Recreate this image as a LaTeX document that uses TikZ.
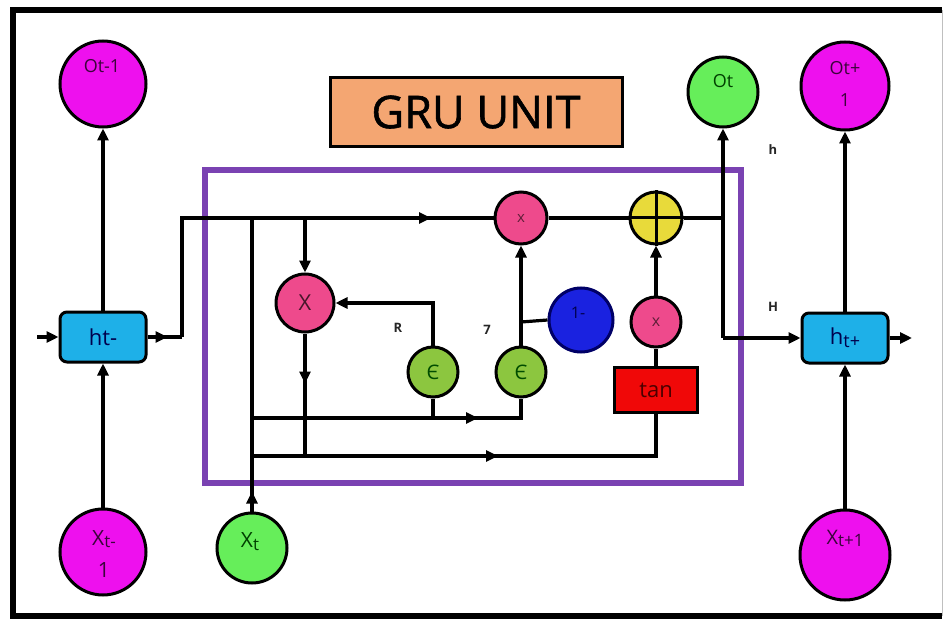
\documentclass[tikz,border=0pt]{standalone}
\usepackage{fontspec}
\setmainfont{Open Sans}
\newfontfamily\titlefont[FakeBold=1.3]{Open Sans}
\usetikzlibrary{arrows.meta,decorations.markings}
\definecolor{magc}{HTML}{EE10EE}
\definecolor{grnc}{HTML}{66EE5A}
\definecolor{sigc}{HTML}{8CC63F}
\definecolor{pinkc}{HTML}{EE4A8C}
\definecolor{yelc}{HTML}{E8DA3A}
\definecolor{bluec}{HTML}{1A22E0}
\definecolor{cyanc}{HTML}{1EB0E8}
\definecolor{redc}{HTML}{F00808}
\definecolor{orac}{HTML}{F4A672}
\definecolor{purc}{HTML}{7A42B2}
\tikzset{
  tip/.tip={Triangle[length=12pt,width=11pt]},
  conn/.style={line width=3.2pt,draw=black},
  arr/.style={conn,-tip},
  midarr/.style={postaction={decorate},decoration={markings,mark=at position #1 with {\arrow{tip}}}},
  circ/.style={circle,draw=black,line width=3pt,inner sep=0pt},
  hbox/.style={draw=black,line width=3pt,fill=cyanc,rounded corners=7pt,minimum width=86pt,minimum height=50pt,font=\fontsize{22}{24}\selectfont,text=black!70!blue},
  ctext/.style={font=\fontsize{18}{20}\selectfont,align=center},
  lbl/.style={font=\bfseries\fontsize{13}{14}\selectfont,text=black!85}
}
\begin{document}
\begin{tikzpicture}[x=1pt,y=-1pt]
\useasboundingbox (0,0) rectangle (946,623);
% outer frame
\draw[line width=6pt,line join=miter] (942,10) -- (13,10) -- (13,616) -- (942,616);
\draw[line width=1pt,black!25] (942,10) -- (942,616);
% purple box
\draw[line width=6pt,purc] (205,170) rectangle (741,483);
% title
\node[draw=black,line width=3pt,fill=orac,minimum width=292pt,minimum height=69pt,font=\titlefont\fontsize{45}{50}\selectfont,text=black] (title) at (476,112) {GRU UNIT};

% outer nodes
\node[circ,fill=magc,minimum size=86pt] (otm) at (103,84) {};
\node[ctext,text=black!75!magc] at (102,66) {Ot-1};
\node[hbox] (htm) at (103,337) {ht-};
\node[circ,fill=magc,minimum size=86pt] (xtm) at (103,552) {};
\node[ctext,text=black!75!magc,font=\fontsize{21}{32}\selectfont] at (104,554) {X\raisebox{-2pt}{\fontsize{17}{18}\selectfont t-}\\1};
\node[circ,fill=grnc,minimum size=70pt] (xt) at (252,548) {};
\node[ctext,text=black!75!green,font=\fontsize{21}{22}\selectfont] at (250,542) {X\raisebox{-3pt}{\fontsize{17}{18}\selectfont t}};

\node[circ,fill=grnc,minimum size=70pt] (ot) at (723,92) {};
\node[ctext,text=black!75!green] at (723,81) {Ot};
\node[circ,fill=magc,minimum size=88pt] (otp) at (845,86) {};
\node[ctext,text=black!75!magc,font=\fontsize{18}{32}\selectfont] at (845,84) {Ot+\\1};
\node[hbox] (htp) at (845,338) {h\raisebox{-3pt}{\fontsize{18}{20}\selectfont t+}};
\node[circ,fill=magc,minimum size=90pt] (xtp) at (845,555) {};
\node[ctext,text=black!75!magc,font=\fontsize{20}{22}\selectfont] at (845,538) {X\raisebox{-2pt}{\fontsize{17}{18}\selectfont t+1}};

% inner nodes
\node[circ,fill=pinkc,minimum size=58pt,font=\fontsize{22}{24}\selectfont,text=black!70!pinkc] (rx) at (305,303) {X};
\node[circ,fill=pinkc,minimum size=52pt,font=\fontsize{15}{16}\selectfont,text=black!60!pinkc] (mx1) at (521,218) {x};
\node[circ,fill=yelc,minimum size=52pt] (plus) at (656,218) {};
\draw[line width=3pt] (plus.north) -- (plus.south) (plus.west) -- (plus.east);
\node[circ,fill=sigc,minimum size=50pt,font=\fontsize{20}{22}\selectfont,text=black!70!green] (s1) at (433,372) {Є};
\node[circ,fill=sigc,minimum size=50pt,font=\fontsize{20}{22}\selectfont,text=black!70!green] (s2) at (521,372) {Є};
\node[circ,draw=black!60!blue,fill=bluec,minimum size=64pt] (one) at (581,320) {};
\node[font=\fontsize{16}{16}\selectfont,text=black!70!blue] at (578,313) {1-};
\node[circ,fill=pinkc,minimum size=50pt,font=\fontsize{16}{16}\selectfont,text=black!60!pinkc] (mx2) at (656,322) {x};
\node[draw=black,line width=3pt,fill=redc,minimum width=83pt,minimum height=45pt,font=\fontsize{22}{24}\selectfont,text=black!70!red] (tanb) at (656,390) {tan};

% coordinates
\coordinate (inl) at (37,337);
\coordinate (c1) at (182,337);
\coordinate (xv) at (252,218);
\coordinate (rv) at (305,218);
\coordinate (jn) at (723,218);
\coordinate (jn2) at (723,338);
\coordinate (outr) at (912,338);
\coordinate (l2) at (252,418);
\coordinate (l3) at (252,456);
\coordinate (rb) at (305,456);
\coordinate (s1b) at (433,418);
\coordinate (zb) at (521,322);

% connectors
\draw[arr] (inl) -- (htm.west);
\draw[arr] (xtm.north) -- (htm.south);
\draw[arr] (htm.north) -- (otm.south);
\draw[conn,midarr=20pt] (htm.east) -- (c1);
\draw[conn,midarr=368pt] (c1) |- (mx1.west);
\draw[conn] (mx1.east) -- (plus.west);
\draw[conn] (plus.east) -- (jn) -- (jn2);
\draw[arr] (jn2) -- (ot.south);
\draw[arr] (jn2) -- (htp.west);
\draw[arr] (htp.east) -- (outr);
\draw[arr] (htp.north) -- (otp.south);
\draw[arr] (xtp.north) -- (htp.south);
\draw[conn,midarr=20pt] (xt.north) -- (xv);
\draw[arr] (rv) -- (rx.north);
\draw[conn,midarr=50pt] (rx.south) -- (rb);
\draw[arr] (s1.north) |- (rx.east);
\draw[conn] (s1.south) -- (s1b);
\draw[conn,midarr=226pt] (l2) -| (s2.south);
\draw[arr] (s2.north) -- (mx1.south);
\draw[conn] (zb) -- (one.west);
\draw[conn] (tanb.north) -- (mx2.south);
\draw[arr] (mx2.north) -- (plus.south);
\draw[conn,midarr=246pt] (l3) -| (tanb.south);

% labels
\node[lbl] (lr) at (398,328) {R};
\node[lbl] (lz) at (487,330) {7};
\node[lbl] (lh) at (773,150) {h};
\node[lbl] (lH) at (773,307) {H};
\end{tikzpicture}
\end{document}
